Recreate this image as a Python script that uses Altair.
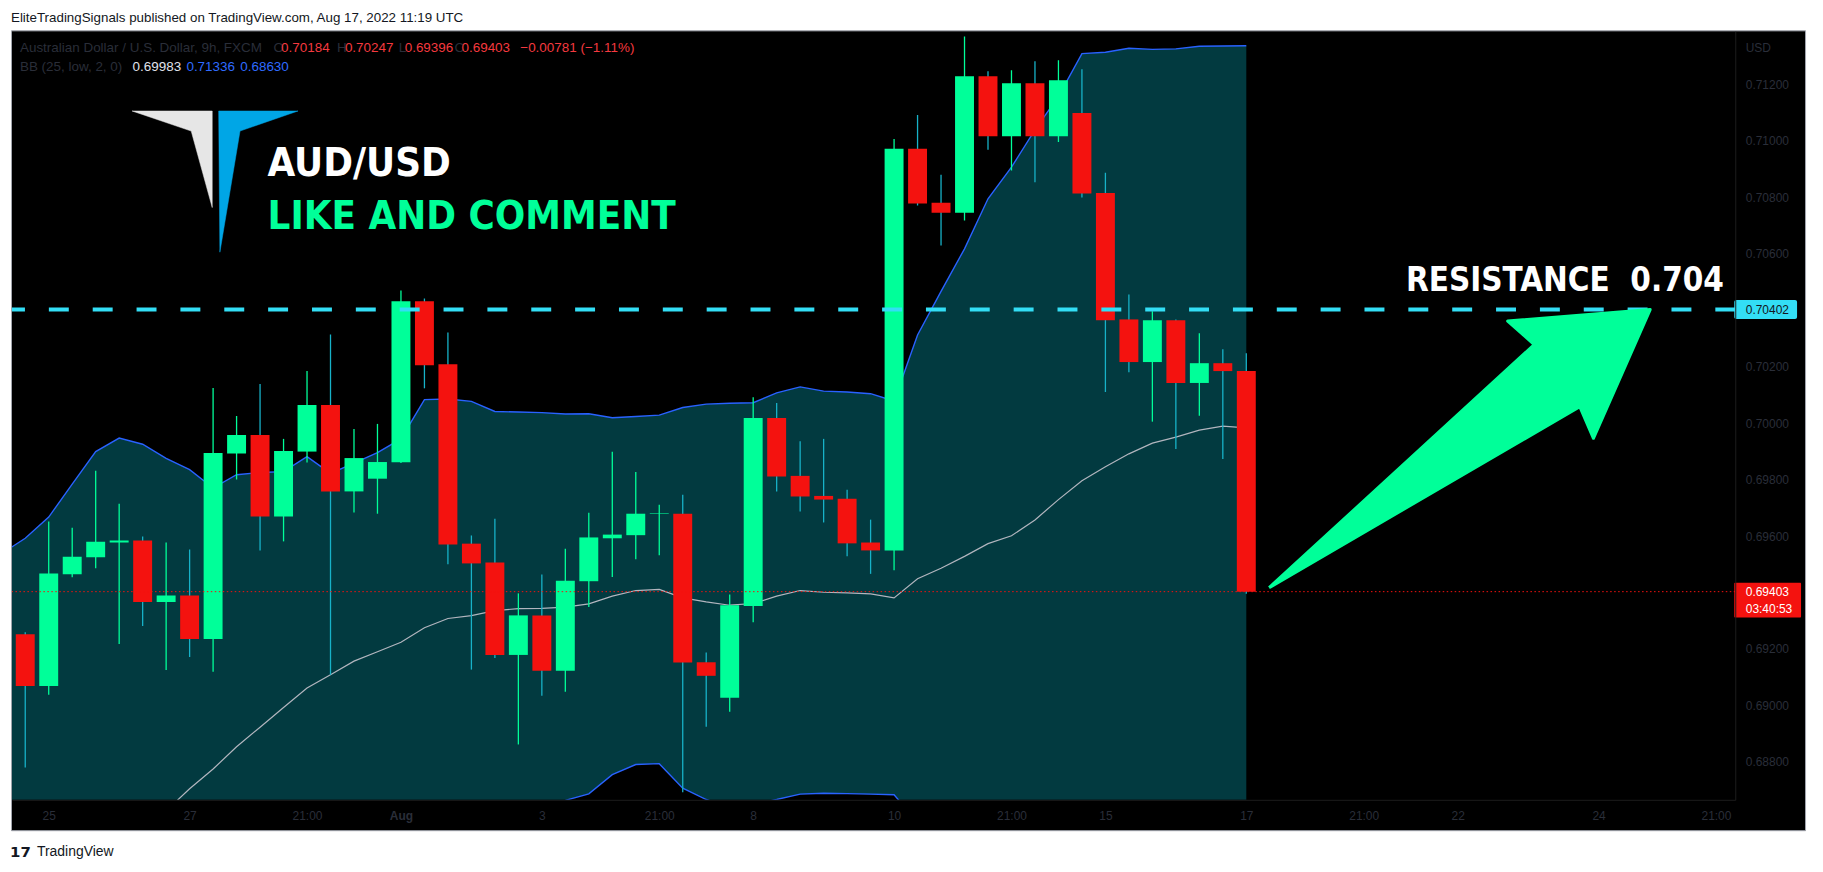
import altair as alt
import pandas as pd

# ------------------------------------------------------------------ data
candle_idx = list(range(53))
opens = [0.69252, 0.69069, 0.69465, 0.69525, 0.69577, 0.69584, 0.69366, 0.69389, 0.69235, 0.69892,
         0.69958, 0.69669, 0.69899, 0.70064, 0.69758, 0.69803, 0.69861, 0.70431, 0.70208, 0.69573,
         0.69506, 0.69179, 0.69319, 0.69123, 0.69440, 0.69592, 0.69603, 0.69678, 0.69679, 0.69153,
         0.69027, 0.69352, 0.70018, 0.69813, 0.69742, 0.69732, 0.69577, 0.69549, 0.70971, 0.70780,
         0.70745, 0.71228, 0.71016, 0.71203, 0.71016, 0.71098, 0.70815, 0.70367, 0.70216, 0.70364,
         0.70142, 0.70212, 0.70184]
highs = [0.69259, 0.69651, 0.69629, 0.69831, 0.69714, 0.69598, 0.69577, 0.69552, 0.70124, 0.70025,
         0.70138, 0.69944, 0.70184, 0.70314, 0.69979, 0.69997, 0.70469, 0.70441, 0.70321, 0.69602,
         0.69661, 0.69397, 0.69464, 0.69555, 0.69682, 0.69898, 0.69827, 0.69711, 0.69746, 0.69188,
         0.69393, 0.70091, 0.70071, 0.69936, 0.69944, 0.69764, 0.69658, 0.71006, 0.71091, 0.70879,
         0.71369, 0.71246, 0.71249, 0.71281, 0.71285, 0.71253, 0.70886, 0.70455, 0.70396, 0.70367,
         0.70318, 0.70261, 0.70247]
lows = [0.68780, 0.69038, 0.69454, 0.69486, 0.69218, 0.69281, 0.69126, 0.69172, 0.69119, 0.69800,
        0.69549, 0.69581, 0.69860, 0.69109, 0.69683, 0.69679, 0.69859, 0.70123, 0.69500, 0.69127,
        0.69168, 0.68862, 0.69034, 0.69049, 0.69349, 0.69455, 0.69518, 0.69532, 0.68693, 0.68925,
        0.68978, 0.69295, 0.69758, 0.69687, 0.69648, 0.69528, 0.69466, 0.69479, 0.70770, 0.70629,
        0.70717, 0.70968, 0.70894, 0.70853, 0.70995, 0.70799, 0.70110, 0.70180, 0.70005, 0.69908,
        0.70026, 0.69873, 0.69396]
closes = [0.69069, 0.69467, 0.69527, 0.69580, 0.69584, 0.69366, 0.69389, 0.69235, 0.69894, 0.69958,
          0.69669, 0.69901, 0.70064, 0.69758, 0.69876, 0.69862, 0.70431, 0.70205, 0.69570, 0.69503,
          0.69179, 0.69319, 0.69123, 0.69442, 0.69595, 0.69605, 0.69679, 0.69680, 0.69152, 0.69105,
          0.69355, 0.70018, 0.69811, 0.69740, 0.69729, 0.69574, 0.69549, 0.70971, 0.70777, 0.70745,
          0.71228, 0.71016, 0.71203, 0.71016, 0.71214, 0.70813, 0.70364, 0.70216, 0.70364, 0.70142,
          0.70212, 0.70184, 0.69403]

band_idx = list(range(-1, 53))
bb_upper = [0.69538, 0.69592, 0.69667, 0.69784, 0.69899, 0.69947, 0.69925, 0.69875, 0.69835, 0.69770,
            0.69817, 0.69825, 0.69828, 0.69881, 0.69822, 0.69858, 0.69895, 0.69944, 0.70083, 0.70085,
            0.70077, 0.70041, 0.70039, 0.70037, 0.70032, 0.70033, 0.70019, 0.70023, 0.70028, 0.70055,
            0.70067, 0.70070, 0.70072, 0.70107, 0.70128, 0.70113, 0.70110, 0.70104, 0.70078, 0.70312,
            0.70466, 0.70617, 0.70794, 0.70906, 0.71038, 0.71157, 0.71308, 0.71313, 0.71327, 0.71323,
            0.71325, 0.71334, 0.71335, 0.71336]
bb_basis = [0.68084, 0.68161, 0.68239, 0.68317, 0.68394, 0.68472, 0.68550, 0.68627, 0.68705, 0.68775,
            0.68854, 0.68923, 0.68993, 0.69062, 0.69109, 0.69157, 0.69190, 0.69224, 0.69275, 0.69308,
            0.69318, 0.69336, 0.69343, 0.69344, 0.69348, 0.69360, 0.69387, 0.69407, 0.69411, 0.69381,
            0.69367, 0.69355, 0.69361, 0.69387, 0.69407, 0.69401, 0.69399, 0.69395, 0.69381, 0.69449,
            0.69486, 0.69528, 0.69573, 0.69601, 0.69657, 0.69729, 0.69796, 0.69845, 0.69891, 0.69929,
            0.69950, 0.69975, 0.69989, 0.69983]
bb_lower = [0.66630, 0.66730, 0.66811, 0.66850, 0.66889, 0.66997, 0.67175, 0.67379, 0.67575, 0.67780,
            0.67891, 0.68021, 0.68158, 0.68243, 0.68396, 0.68456, 0.68485, 0.68504, 0.68467, 0.68531,
            0.68559, 0.68631, 0.68647, 0.68651, 0.68664, 0.68687, 0.68755, 0.68791, 0.68794, 0.68707,
            0.68667, 0.68640, 0.68650, 0.68667, 0.68686, 0.68689, 0.68688, 0.68686, 0.68684, 0.68586,
            0.68506, 0.68439, 0.68352, 0.68296, 0.68276, 0.68301, 0.68284, 0.68377, 0.68455, 0.68535,
            0.68575, 0.68616, 0.68643, 0.68630]

resistance_level = [0.70402]
tick_positions = [1, 7, 12, 16, 22, 27, 31, 37, 42, 46, 52, 57, 61, 67, 72]
tick_labels = ["25", "27", "21:00", "Aug", "3", "21:00", "8", "10", "21:00", "15", "17",
               "21:00", "22", "24", "21:00"]
# 0.704 and 0.694 are hidden behind the price boxes in the original
price_ticks = [0.688, 0.690, 0.692, 0.696, 0.698, 0.700, 0.702, 0.706,
               0.708, 0.710, 0.712]

# drawing shapes (in bar-index / price units)
arrow_idx = [52.971, 64.261, 63.132, 69.20, 66.783, 66.202, 52.971]
arrow_price = [0.69417, 0.70278, 0.70361, 0.70402, 0.69946, 0.70058, 0.69417]
logo_white_idx = [4.550, 7.963, 7.963, 7.067, 4.550]
logo_white_price = [0.71105, 0.71105, 0.70763, 0.71034, 0.71105]
logo_blue_idx = [8.238, 11.617, 9.147, 8.289, 8.238]
logo_blue_price = [0.71105, 0.71105, 0.71034, 0.70605, 0.71105]

# ------------------------------------------------------------------ styling
W, H = 1729, 771
X_DOMAIN = [-0.5645, 72.823]
Y_DOMAIN = [0.68666, 0.71387]
GREEN = "#00ff99"
RED = "#f4120f"
WICK_DOWN = "#17b2c8"
BAND_FILL = "#023a40"
BAND_LINE = "#2962ff"
BASIS = "#b2b5be"
CYAN = "#33def5"
DIM = "#2a2e39"
FONT = "Liberation Sans"
BIG_FONT = "DejaVu Sans Condensed, DejaVu Sans"

xs = alt.Scale(domain=X_DOMAIN, nice=False, zero=False, padding=0)
ys = alt.Scale(domain=Y_DOMAIN, nice=False, zero=False, padding=0)

label_expr = ("[" + ",".join(f"'{t}'" for t in tick_labels) + "][indexof(["
              + ",".join(str(p) for p in tick_positions) + "], datum.value)]")

x_axis = alt.Axis(values=tick_positions, labelExpr=label_expr, ticks=False, tickSize=0,
                  grid=False, domainColor="#1c1c1c", labelColor=DIM, labelFont=FONT,
                  labelFontSize=12, labelPadding=16, labelBaseline="middle", labelFlush=False,
                  labelOverlap=False, title=None, zindex=1,
                  labelFontWeight={"condition": {"test": "datum.value == 16", "value": "bold"},
                                   "value": "normal"})
y_axis = alt.Axis(orient="right", values=price_ticks, format=".5f", ticks=False, tickSize=0,
                  grid=False, domainColor="#1c1c1c", labelColor=DIM, labelFont=FONT,
                  labelFontSize=12, labelPadding=10, labelAlign="left", labelFlush=False,
                  labelOverlap=False, title="USD", titleAngle=0, titleX=10, titleY=16,
                  titleAlign="left", titleBaseline="middle", titleColor=DIM, titleFont=FONT,
                  titleFontSize=12, titleFontWeight="normal", zindex=1)


def X(f):
    return alt.X(f"{f}:Q", scale=xs, axis=x_axis)


def Y(f):
    return alt.Y(f"{f}:Q", scale=ys, axis=y_axis)


ONE = pd.DataFrame({"k": [0]})

candles = pd.DataFrame({"i": candle_idx, "o": opens, "h": highs, "l": lows, "c": closes})
band = pd.DataFrame({"i": band_idx, "up": bb_upper, "mid": bb_basis, "lo": bb_lower})
res_df = pd.DataFrame({"r": resistance_level})
last_df = pd.DataFrame({"c": [closes[-1]]})


def poly(xv, yv):
    return pd.DataFrame({"x": xv, "y": yv, "k": list(range(len(xv)))})


def txt(text, x, y, color, size=13, weight="normal", font=FONT, baseline="middle", align="left"):
    return alt.Chart(ONE).mark_text(text=text, align=align, baseline=baseline, font=font,
                                    fontSize=size, fontWeight=weight, color=color).encode(
        x=alt.value(x), y=alt.value(y))


def fmt(v):
    return f"{v:.5f}".replace("-", "\u2212")


up_cond = "datum.c >= datum.o"

layers = []
# black chart panel
layers.append(alt.Chart(ONE).mark_rect(fill="black", stroke="#a3a6af", strokeWidth=1).encode(
    x=alt.value(-0.5), x2=alt.value(W + 70.5), y=alt.value(-0.5), y2=alt.value(H + 31)))
# bollinger band
layers.append(alt.Chart(band).mark_area(color=BAND_FILL, opacity=1, clip=True).encode(
    x=X("i"), y=Y("up"), y2="lo"))
layers.append(alt.Chart(band).mark_line(color=BAND_LINE, strokeWidth=1.4, clip=True).encode(
    x=X("i"), y=Y("up")))
layers.append(alt.Chart(band).mark_line(color=BAND_LINE, strokeWidth=1.4, clip=True).encode(
    x=X("i"), y=Y("lo")))
layers.append(alt.Chart(band).mark_line(color=BASIS, strokeWidth=1.2, clip=True).encode(
    x=X("i"), y=Y("mid")))
# candles
layers.append(alt.Chart(candles).mark_rule(strokeWidth=1.3, clip=True).encode(
    x=X("i"), y=Y("l"), y2="h",
    color=alt.condition(up_cond, alt.value(GREEN), alt.value(WICK_DOWN))))
layers.append(alt.Chart(candles).mark_bar(size=19, clip=True).encode(
    x=X("i"), y=Y("o"), y2="c",
    color=alt.condition(up_cond, alt.value(GREEN), alt.value(RED))))
# price lines
layers.append(alt.Chart(last_df).mark_rule(color=RED, strokeWidth=1, strokeDash=[1.5, 2.5]).encode(
    y=Y("c")))
layers.append(alt.Chart(res_df).mark_rule(color=CYAN, strokeWidth=4, strokeDash=[20, 24]).encode(
    y=Y("r")))
# arrow + logo
layers.append(alt.Chart(poly(arrow_idx, arrow_price)).mark_line(
    fill=GREEN, stroke=GREEN, strokeWidth=3, strokeJoin="round").encode(
    x=X("x"), y=Y("y"), order="k:Q"))
layers.append(alt.Chart(poly(logo_white_idx, logo_white_price)).mark_line(
    fill="#e6e6e6", stroke="#e6e6e6", strokeWidth=0.5).encode(
    x=X("x"), y=Y("y"), order="k:Q"))
layers.append(alt.Chart(poly(logo_blue_idx, logo_blue_price)).mark_line(
    fill="#00a6e6", stroke="#00a6e6", strokeWidth=0.5).encode(
    x=X("x"), y=Y("y"), order="k:Q"))

# annotation texts anchored in data space
ann = pd.DataFrame({
    "x": [10.318, 10.318, 58.80],
    "y": [0.708752, 0.706882, 0.704669],
    "t": ["AUD/USD", "LIKE AND COMMENT", "RESISTANCE\u00a0\u00a00.704"],
    "col": ["#ffffff", GREEN, "#ffffff"],
    "s": [40, 40, 33],
})
for _, r in ann.iterrows():
    layers.append(alt.Chart(pd.DataFrame([r])).mark_text(
        align="left", baseline="alphabetic", font=BIG_FONT, fontWeight="bold",
        fontSize=float(r["s"]), color=r["col"]).encode(x=X("x"), y=Y("y"), text="t:N"))

# price-scale labels
layers.append(alt.Chart(res_df).mark_rect(color=CYAN, yOffset=-9.5, y2Offset=9.5,
                                          cornerRadius=2).encode(
    y=Y("r"), y2="r", x=alt.value(W - 1), x2=alt.value(W + 62)))
layers.append(alt.Chart(res_df).mark_text(align="left", baseline="middle", font=FONT,
                                          fontSize=12, color="#131722").encode(
    y=Y("r"), x=alt.value(W + 10.5), text=alt.Text("r:Q", format=".5f")))
layers.append(alt.Chart(last_df).mark_rect(color=RED, yOffset=-9, y2Offset=26,
                                           cornerRadius=1).encode(
    y=Y("c"), y2="c", x=alt.value(W - 1), x2=alt.value(W + 66)))
layers.append(alt.Chart(last_df).mark_text(align="left", baseline="middle", font=FONT,
                                           fontSize=12, color="white").encode(
    y=Y("c"), x=alt.value(W + 10.5), text=alt.Text("c:Q", format=".5f")))
layers.append(alt.Chart(last_df).mark_text(align="left", baseline="middle", font=FONT,
                                           fontSize=12, color="white", dy=17.5,
                                           text="03:40:53").encode(
    y=Y("c"), x=alt.value(W + 10.5)))

# legend header
o, h, l, c = opens[-1], highs[-1], lows[-1], closes[-1]
chg = c - closes[-2]
pct = chg / closes[-2] * 100
HRED = "#f5393f"
layers += [
    txt("Australian Dollar / U.S. Dollar, 9h, FXCM", 8, 16.7, DIM, size=13.5),
    txt("O", 262.5, 16.7, DIM, size=13.5), txt(fmt(o), 270, 16.7, HRED, size=13.5),
    txt("H", 326, 16.7, DIM, size=13.5), txt(fmt(h), 334, 16.7, HRED, size=13.5),
    txt("L", 388, 16.7, DIM, size=13.5), txt(fmt(l), 394, 16.7, HRED, size=13.5),
    txt("C", 444, 16.7, DIM, size=13.5), txt(fmt(c), 451, 16.7, HRED, size=13.5),
    txt(f"{fmt(chg)} ({pct:.2f}%)".replace("-", "\u2212"), 510, 16.7, HRED, size=13.5),
    txt("BB (25, low, 2, 0)", 8, 35.7, DIM, size=13.5),
    txt(fmt(bb_basis[-1]), 121, 35.7, "#e0e3eb", size=13.5),
    txt(fmt(bb_upper[-1]), 175, 35.7, "#2f6bff", size=13.5),
    txt(fmt(bb_lower[-1]), 229, 35.7, "#2f6bff", size=13.5),
    # page texts outside the panel
    txt("EliteTradingSignals published on TradingView.com, Aug 17, 2022 11:19 UTC", -1, -13.3,
        "#131722", size=13.4),
    txt("17", -2, 823, "#131722", size=15, weight="bold", font="DejaVu Sans"),
    txt("TradingView", 25, 823, "#131722", size=14),
]

chart = alt.layer(*layers).properties(
    width=W, height=H,
    padding={"left": 4, "top": 22, "right": 80, "bottom": 68},
    autosize=alt.AutoSizeParams(type="none"),
    background="white",
).configure_view(strokeWidth=0)

chart.save("out.html", embed_options={"renderer": "svg", "actions": False})
